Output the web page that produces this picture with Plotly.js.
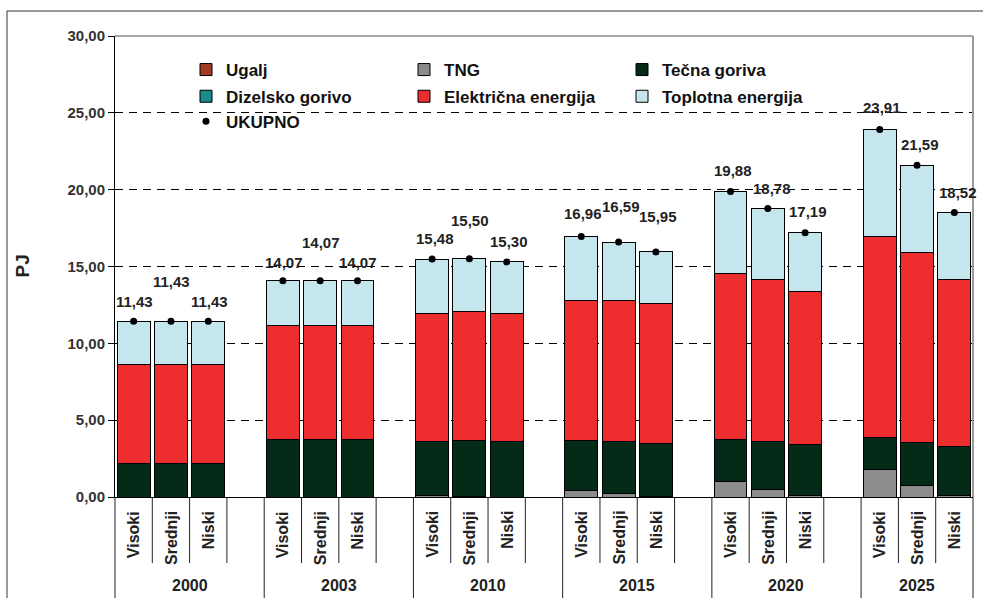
<!DOCTYPE html>
<html><head><meta charset="utf-8">
<script src="https://cdn.plot.ly/plotly-3.0.1.min.js"></script>
<style>html,body{margin:0;padding:0;background:#fff}#chart{width:983px;height:598px}</style>
</head><body><div id="chart"></div>
<script>
// ---- data (PJ) ----
const years = ['2000', '2003', '2010', '2015', '2020', '2025'];
const scenarios = ['Visoki', 'Srednji', 'Niski'];
const ugalj      = [0,0,0, 0,0,0, 0,0,0, 0,0,0, 0,0,0, 0,0,0];
const dizelsko   = [0,0,0, 0,0,0, 0,0,0, 0,0,0, 0,0,0, 0,0,0];
const tng        = [0,0,0, 0,0,0, 0.10,0.02,0, 0.45,0.24,0.03, 1.00,0.50,0.10, 1.76,0.78,0.10];
const tecna      = [2.21,2.21,2.21, 3.77,3.77,3.77, 3.50,3.64,3.64, 3.21,3.40,3.46, 2.75,3.14,3.33, 2.10,2.78,3.17];
const elektricna = [6.44,6.44,6.44, 7.42,7.42,7.42, 8.37,8.38,8.33, 9.16,9.18,9.07, 10.82,10.54,9.97, 13.10,12.38,10.91];
const toplotna   = [2.78,2.78,2.78, 2.88,2.88,2.88, 3.51,3.46,3.33, 4.14,3.77,3.39, 5.31,4.60,3.79, 6.95,5.65,4.34];
const ukupno     = [11.43,11.43,11.43, 14.07,14.07,14.07, 15.48,15.50,15.30, 16.96,16.59,15.95, 19.88,18.78,17.19, 23.91,21.59,18.52];

// ---- label placement tuning (style, px) ----
const labelLift  = [20,40,20, 18,38,18, 21,38,20, 23,36,35, 21,20,21, 22,21,20];
const labelNudge = [1,1,1, 1,1,1, 3,1,2, 2,2,2, 2,4,3, 2,3,4];

// ---- positions on a slot axis: 3 bars + 1 gap per group ----
const perGroup = scenarios.length + 1;
const nSlots = years.length * perGroup - 1;
const xs = [];
years.forEach((y, g) => scenarios.forEach((s, k) => xs.push(g * perGroup + k)));

const FONT = 'Liberation Sans, Arial, sans-serif';
const barW = 0.88;
const outline = {color: '#000', width: 1};

function barTrace(name, vals, color, legend, rank) {
  return {type: 'bar', name: name, x: xs, y: vals, width: barW, legend: legend, legendrank: rank,
    marker: {color: color, line: outline}, hoverinfo: 'name+y'};
}

const traces = [
  barTrace('Ugalj', ugalj, '#A33A22', 'legend', 1),
  barTrace('TNG', tng, '#8C8C8C', 'legend', 2),
  barTrace('Tečna goriva', tecna, '#062A18', 'legend', 3),
  barTrace('Dizelsko gorivo', dizelsko, '#1B8A8A', 'legend2', 4),
  barTrace('Električna energija', elektricna, '#EE2E2E', 'legend2', 5),
  barTrace('Toplotna energija', toplotna, '#C6E6EE', 'legend2', 6),
  {type: 'scatter', mode: 'markers', name: 'UKUPNO', x: xs, y: ukupno, legend: 'legend3',
   marker: {color: '#000', size: 7}, cliponaxis: false, hoverinfo: 'name+y'}
];

const fmt = v => v.toFixed(2).replace('.', ',');
const annotations = [];
ukupno.forEach((v, i) => annotations.push({
  x: xs[i], y: v, xref: 'x', yref: 'y', text: fmt(v), showarrow: false,
  xanchor: 'center', yanchor: 'middle', yshift: labelLift[i], xshift: labelNudge[i],
  font: {family: FONT, size: 15, weight: 'bold', color: '#222'}
}));
// category labels
const P = 461; // plot height px
const toPaperY = px => (497 - px) / P;
xs.forEach((x, i) => annotations.push({
  x: x, y: toPaperY(509), xref: 'x', yref: 'paper', text: scenarios[i % scenarios.length],
  showarrow: false, textangle: -90, xanchor: 'center', yanchor: 'top',
  font: {family: FONT, size: 16, weight: 'bold', color: '#222'}
}));
years.forEach((yr, g) => {
  const first = g * perGroup - 0.5;
  const last = Math.min(first + perGroup, nSlots - 0.5);
  annotations.push({
    x: (first + last) / 2, y: toPaperY(585), xref: 'x', yref: 'paper', text: yr,
    showarrow: false, xanchor: 'center', yanchor: 'middle',
    font: {family: FONT, size: 16, weight: 'bold', color: '#222'}
  });
});
annotations.push({
  x: (22 - 115) / 858, y: 0.5, xref: 'paper', yref: 'paper', text: 'PJ', showarrow: false,
  textangle: -90, xanchor: 'center', yanchor: 'middle',
  font: {family: FONT, size: 19, weight: 'bold', color: '#222'}
});

// separator lines below axis
const shapes = [];
const px = b => (b + 0.5) / nSlots;
for (let b = -0.5; b <= nSlots - 0.5 + 1e-9; b += 1) {
  const idx = b + 0.5; // slot boundary index
  const isGroup = (idx % perGroup === 0) || Math.abs(b - (nSlots - 0.5)) < 1e-9;
  shapes.push({type: 'line', xref: 'paper', yref: 'paper', x0: px(b), x1: px(b),
    y0: 0, y1: isGroup ? toPaperY(605) : toPaperY(563), line: {color: '#222', width: 1}});
}
// plot area top/right border
shapes.push({type: 'line', xref: 'paper', yref: 'paper', x0: 0, x1: 1, y0: 1, y1: 1, line: {color: '#8a8a8a', width: 1.5}, layer: 'above'});
shapes.push({type: 'line', xref: 'paper', yref: 'paper', x0: 1, x1: 1, y0: 0, y1: 1, line: {color: '#9a9a9a', width: 2}, layer: 'above'});
// outer frame
shapes.push({type: 'rect', xref: 'paper', yref: 'paper', x0: (7 - 115) / 858, x1: 1.3, y0: -0.5, y1: toPaperY(11),
  line: {color: '#333', width: 1}});

const legFont = {family: FONT, size: 17, weight: 'bold', color: '#111'};
const legX = (186 - 115) / 858;
function leg(yPx) {
  return {orientation: 'h', x: legX, xanchor: 'left', y: toPaperY(yPx), yanchor: 'middle',
    entrywidth: 173, entrywidthmode: 'pixels', font: legFont, bgcolor: 'rgba(0,0,0,0)',
    itemclick: false, itemdoubleclick: false, traceorder: 'normal'};
}

const layout = {
  width: 983, height: 598,
  margin: {l: 115, r: 10, t: 36, b: 101},
  paper_bgcolor: '#fff', plot_bgcolor: '#fff',
  barmode: 'stack', bargap: 0,
  separators: ', ',
  font: {family: FONT, color: '#222'},
  xaxis: {range: [-0.5, nSlots - 0.5], showticklabels: false, ticks: '', showgrid: false,
    zeroline: false, showline: true, linecolor: '#000', linewidth: 1, fixedrange: true},
  yaxis: {range: [0, 30], tick0: 0, dtick: 5, tickformat: '.2f', showgrid: true,
    gridcolor: '#000', gridwidth: 1, griddash: '8px,6px', zeroline: false,
    showline: true, linecolor: '#000', linewidth: 1, ticks: 'outside', ticklen: 6,
    tickcolor: '#000', tickfont: {family: FONT, size: 15, weight: 'bold', color: '#333'}, fixedrange: true},
  legend: leg(70), legend2: leg(96.7), legend3: leg(121.7),
  annotations: annotations, shapes: shapes
};

Plotly.newPlot('chart', traces, layout, {displayModeBar: false, staticPlot: true});
</script>
</body></html>
